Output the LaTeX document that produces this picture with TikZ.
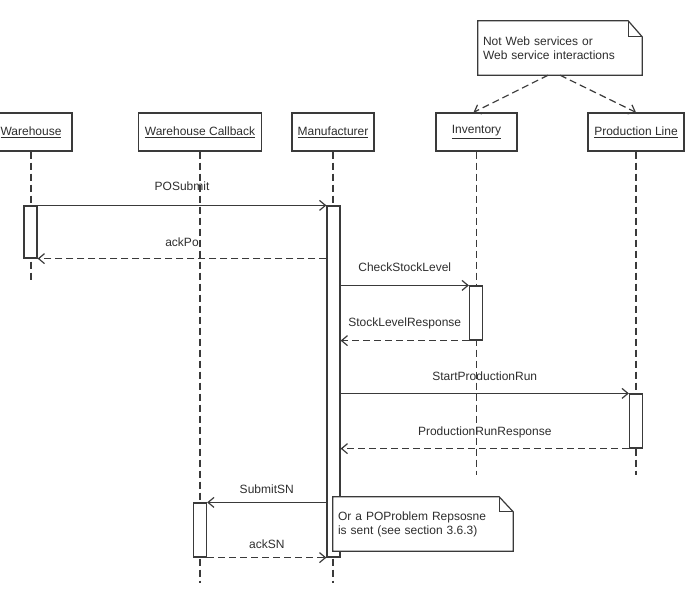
\documentclass[tikz,border=0pt]{standalone}
\usepackage{fontspec}
\setmainfont{Liberation Sans}
\usetikzlibrary{arrows.meta,calc}
\definecolor{ln}{HTML}{3A3A3A}
\definecolor{tx}{HTML}{2E2E2E}
\begin{document}
\begin{tikzpicture}[x=1pt,y=-1pt,
  every node/.style={font=\fontsize{12pt}{14pt}\selectfont, text=tx},
  head/.style={draw=ln, line width=1.2pt, fill=white, minimum height=38pt, inner sep=0pt},
  act/.style={draw=ln, line width=1.2pt, fill=white, minimum width=13pt, inner sep=0pt},
  life/.style={draw=ln, line width=1.2pt, dash pattern=on 7pt off 4pt},
  msg/.style={draw=ln, line width=1.2pt, -{Straight Barb[length=6pt,width=10pt]}},
  ret/.style={msg, dash pattern=on 7pt off 4pt},
  lbl/.style={text height=9pt, text depth=2.5pt, inner sep=0pt},
  note/.style={fill=white, inner xsep=5pt, inner ysep=0pt, minimum height=54pt, align=left},
  outl/.style={draw=ln, line width=1.2pt}
]
\useasboundingbox (0,0) rectangle (692,598);

% heads
\node[head, minimum width=82pt]  (wh)  at (31,132)    {\underline{Warehouse}};
\node[head, minimum width=123pt] (wc)  at (200,132)   {\underline{Warehouse Callback}};
\node[head, minimum width=82pt]  (mf)  at (333,132)   {\underline{Manufacturer}};
\node[head, minimum width=81pt]  (inv) at (476.5,132) {\underline{Inventory}};
\node[head, minimum width=96pt]  (pl)  at (636,132)   {\underline{Production Line}};

% lifelines
\coordinate (whE)  at (31,282);
\coordinate (wcE)  at (200,583);
\coordinate (mfE)  at (333,583);
\coordinate (invE) at (476.5,475);
\coordinate (plE)  at (636,475);
\draw[life] (wh.south)  -- (whE);
\draw[life] (wc.south)  -- (wcE);
\draw[life] (mf.south)  -- (mfE);
\draw[life] (inv.south) -- (invE);
\draw[life] (pl.south)  -- (plE);

% activations
\node[act, minimum height=52pt]  (wact) at (30.5,232)  {};
\node[act, minimum height=351pt] (mact) at (333.5,381.5) {};
\node[act, minimum height=54pt]  (iact) at (476,313)   {};
\node[act, minimum height=54pt]  (pact) at (636,421)   {};
\node[act, minimum height=54pt]  (cact) at (200,530)   {};

% messages
\draw[msg] (wact.north east) -- (mact.north west)
  node[lbl, midway, yshift=18pt] {POSubmit};
\draw[ret] (mact.west |- wact.south) -- (wact.south east)
  node[lbl, midway, yshift=15pt] {ackPo};
\draw[msg] (mact.east |- iact.north) -- (iact.north west)
  node[lbl, midway, yshift=17pt] {CheckStockLevel};
\draw[ret] (iact.south west) -- (mact.east |- iact.south)
  node[lbl, midway, yshift=17pt] {StockLevelResponse};
\draw[msg] (mact.east |- pact.north) -- (pact.north west)
  node[lbl, midway, yshift=16pt] {StartProductionRun};
\draw[ret] (pact.south west) -- (mact.east |- pact.south)
  node[lbl, midway, yshift=16pt] {ProductionRunResponse};
\draw[msg] (mact.west |- cact.north) -- (cact.north east)
  node[lbl, midway, yshift=12pt] {SubmitSN};
\draw[ret] (cact.south east) -- (mact.south west)
  node[lbl, midway, yshift=12pt] {ackSN};

% note 1
\node[note, text width=154pt] (n1) at (560,48) {Not Web services or\\Web service interactions};
\draw[outl] (n1.north west) -- ($(n1.north east)+(-14,0)$) -- ($(n1.north east)+(0,16)$)
  -- (n1.south east) -- (n1.south west) -- cycle;
\draw[outl] ($(n1.north east)+(-14,0)$) -- ($(n1.north east)+(-14,16)$) -- ($(n1.north east)+(0,16)$);
\draw[ret] ([xshift=-12pt]n1.south) -- ([xshift=-3pt]inv.north);
\draw[ret] (n1.south) -- (pl.north);

% note 2
\node[note, text width=170pt] (n2) at (423,524) {Or a POProblem Repsosne\\is sent (see section 3.6.3)};
\draw[outl] (n2.north west) -- ($(n2.north east)+(-14,0)$) -- ($(n2.north east)+(0,15)$)
  -- (n2.south east) -- (n2.south west) -- cycle;
\draw[outl] ($(n2.north east)+(-14,0)$) -- ($(n2.north east)+(-14,15)$) -- ($(n2.north east)+(0,15)$);
\end{tikzpicture}
\end{document}
